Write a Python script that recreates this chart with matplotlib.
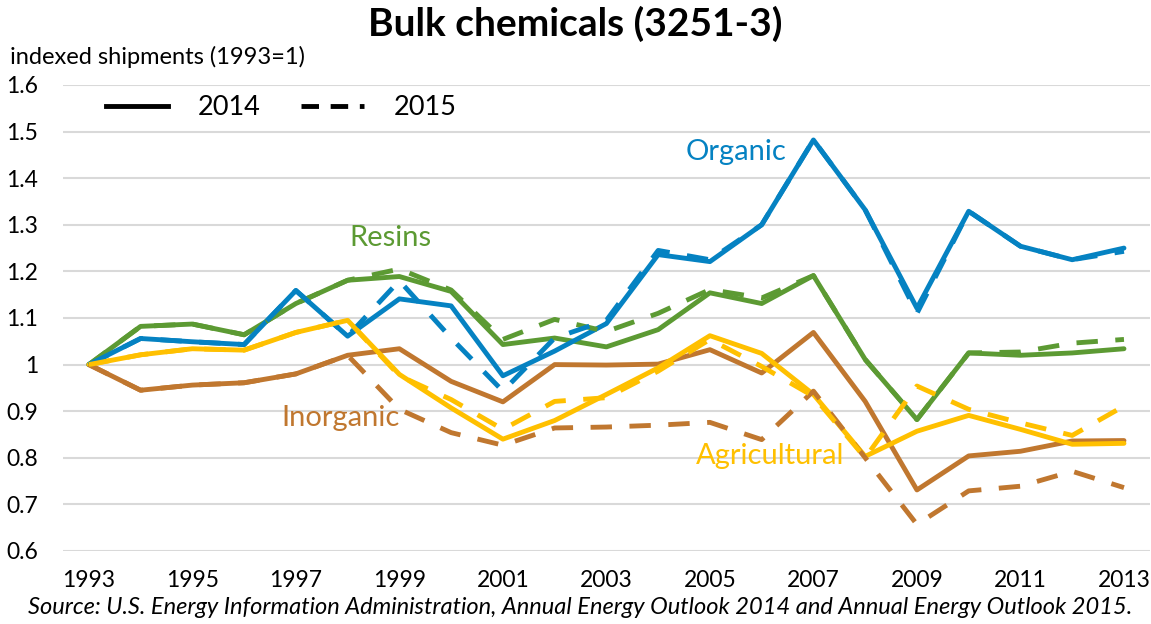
import matplotlib
matplotlib.use('Agg')
import matplotlib.pyplot as plt

plt.rcParams['font.family'] = ['Lato', 'DejaVu Sans']

# ----------------------------------------------------------------------------
# Data
# ----------------------------------------------------------------------------
years = list(range(1993, 2014))
tick_years = list(range(1993, 2014, 2))

organic_2014 = [1.000, 1.056, 1.049, 1.043, 1.159, 1.061, 1.141, 1.126, 0.976, 1.029, 1.088,
                1.236, 1.221, 1.300, 1.482, 1.332, 1.121, 1.329, 1.254, 1.225, 1.250]
organic_2015 = [1.000, 1.056, 1.049, 1.043, 1.159, 1.061, 1.180, 1.057, 0.943, 1.057, 1.095,
                1.245, 1.225, 1.300, 1.482, 1.332, 1.110, 1.329, 1.254, 1.225, 1.243]

resins_2014 = [1.000, 1.082, 1.087, 1.064, 1.131, 1.181, 1.189, 1.157, 1.043, 1.057, 1.038,
               1.075, 1.154, 1.131, 1.191, 1.011, 0.882, 1.025, 1.020, 1.025, 1.034]
resins_2015 = [1.000, 1.082, 1.087, 1.064, 1.131, 1.181, 1.205, 1.160, 1.054, 1.097, 1.071,
               1.110, 1.161, 1.143, 1.191, 1.011, 0.882, 1.025, 1.027, 1.046, 1.054]

inorganic_2014 = [1.000, 0.945, 0.956, 0.961, 0.980, 1.020, 1.034, 0.964, 0.920, 1.000, 0.999,
                  1.001, 1.032, 0.982, 1.069, 0.921, 0.731, 0.804, 0.814, 0.836, 0.837]
inorganic_2015 = [1.000, 0.945, 0.956, 0.961, 0.980, 1.020, 0.904, 0.854, 0.827, 0.864, 0.866,
                  0.870, 0.876, 0.839, 0.943, 0.800, 0.657, 0.729, 0.739, 0.771, 0.736]

agri_2014 = [1.000, 1.021, 1.034, 1.031, 1.069, 1.095, 0.979, 0.907, 0.840, 0.880, 0.936,
             0.993, 1.062, 1.024, 0.936, 0.803, 0.857, 0.891, 0.861, 0.829, 0.831]
agri_2015 = [1.000, 1.021, 1.034, 1.031, 1.069, 1.095, 0.976, 0.925, 0.861, 0.921, 0.929,
             0.986, 1.054, 0.996, 0.932, 0.800, 0.954, 0.904, 0.875, 0.848, 0.911]

series = [
    ('Inorganic',    '#C0772F', inorganic_2014, inorganic_2015, (1997.87, 0.885)),
    ('Resins',       '#5C9A33', resins_2014,    resins_2015,    (1998.82, 1.272)),
    ('Organic',      '#0582C2', organic_2014,   organic_2015,   (2005.50, 1.456)),
    ('Agricultural', '#FFC000', agri_2014,      agri_2015,      (2006.16, 0.804)),
]

LW = 3.5
DASH = (4.4, 3.6)

# ----------------------------------------------------------------------------
fig = plt.figure(figsize=(11.51, 6.24), dpi=100)
ax = fig.add_axes([0.0547, 0.117, 0.9443, 0.7468])

for name, color, s14, s15, (lx, ly) in series:
    ax.plot(years, s14, color=color, lw=LW, solid_joinstyle='round',
            solid_capstyle='round', zorder=3)
    ax.plot(years, s15, color=color, lw=LW, dashes=DASH,
            dash_capstyle='butt', zorder=4)
    ax.text(lx, ly, name, color=color, fontsize=21, ha='center', va='center')

ax.set_xlim(1992.5, 2013.5)
ax.set_ylim(0.6, 1.6)
ax.set_yticks([0.6, 0.7, 0.8, 0.9, 1.0, 1.1, 1.2, 1.3, 1.4, 1.5, 1.6])
ax.set_yticklabels(['0.6', '0.7', '0.8', '0.9', '1', '1.1', '1.2', '1.3', '1.4', '1.5', '1.6'])
ax.set_xticks(tick_years)
ax.set_xticklabels([str(y) for y in tick_years])
ax.tick_params(axis='both', length=0, labelsize=16.5)
ax.tick_params(axis='y', pad=18)
ax.tick_params(axis='x', pad=14)
ax.grid(axis='y', color='#D9D9D9', lw=1.5)
ax.set_axisbelow(True)
for sp in ax.spines.values():
    sp.set_visible(False)

# legend: black solid vs dashed
h1, = ax.plot([], [], color='black', lw=LW)
h2, = ax.plot([], [], color='black', lw=LW, dashes=(3.6, 2.4))
ax.legend([h1, h2], ['2014', '2015'], loc='upper left', bbox_to_anchor=(0.017, 1.03),
          ncol=2, frameon=False, fontsize=19.5, handlelength=2.3, handletextpad=1.1,
          columnspacing=1.5)

fig.text(0.5, 0.962, 'Bulk chemicals (3251-3)', ha='center', va='center',
         fontsize=28, fontweight='bold')
fig.text(0.009, 0.908, 'indexed shipments (1993=1)', ha='left', va='center', fontsize=17)
fig.text(0.024, 0.027, 'Source: U.S. Energy Information Administration, Annual Energy Outlook 2014 '
         'and Annual Energy Outlook 2015.', ha='left', va='center', fontsize=17, style='italic')

fig.savefig('out.png', dpi=100)
